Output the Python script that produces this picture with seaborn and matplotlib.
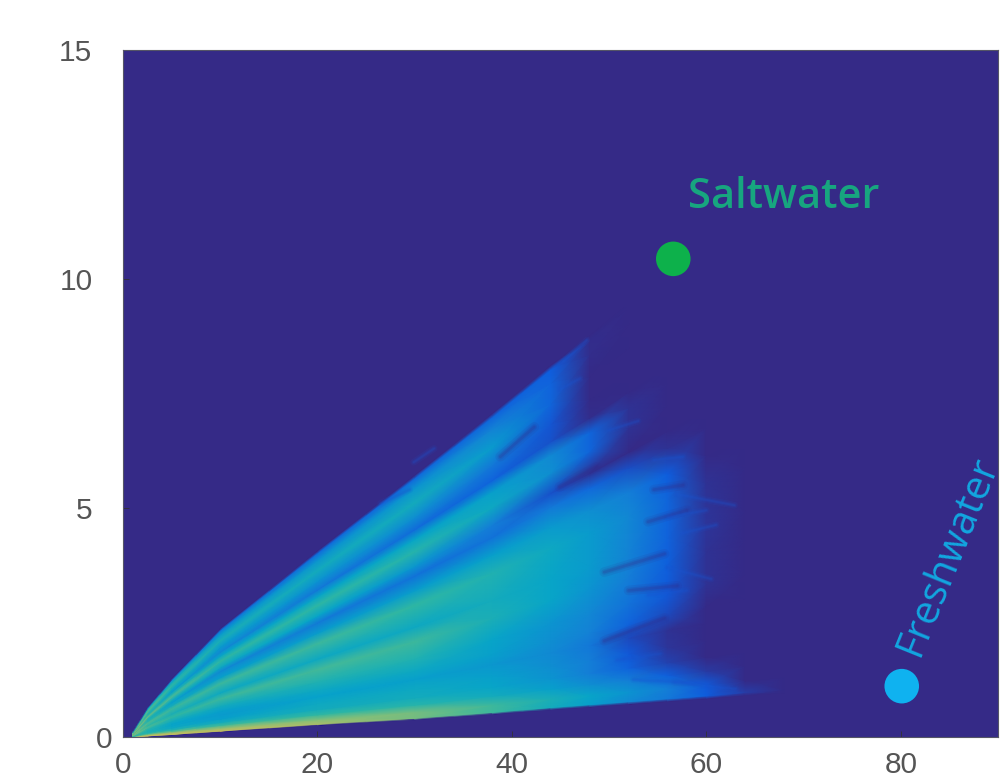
import numpy as np
import pandas as pd
import matplotlib
matplotlib.use("Agg")
import matplotlib.pyplot as plt
from matplotlib.transforms import ScaledTranslation
import seaborn as sns

# Axis ticks
x_ticks = [0, 20, 40, 60, 80]
y_ticks = [0, 5, 10, 15]

# Fan outline: at each x, its lower and upper edge
x_cols = [1, 2.5, 5, 10, 20, 30, 38, 44, 48, 52, 56, 60, 64, 68]
edge_low = [0, .02, .05, .12, .26, .38, .50, .60, .66, .72, .78, .84, .91, .97]
edge_top = [.1, .62, 1.25, 2.35, 4.05, 5.7, 7.05, 8.1, 8.75, 9.45, 10.15, 10.85, 11.5, 12.2]

# Position of each ray between the two edges
ray_pos = [0, .006, .03, .06, .09, .125, .165, .20, .25, .32, .38, .47, .53, .59,
           .63, .69, .74, .78, .83, .89, .95, .99, 1.0]

# Density along each ray (percent of the colour scale), one row per ray, one column per x
density = [
    [ 0,  0,  0,  0,  0,  0,  0,  0,  0,  0,  0,  0,  0, 0],
    [72, 72, 72, 72, 68, 60, 52, 42, 36, 28, 22, 13,  5, 0],
    [72, 72, 70, 66, 62, 60, 52, 44, 38, 32, 24, 12,  0, 0],
    [64, 62, 56, 52, 50, 48, 42, 36, 30, 24, 14,  4,  0, 0],
    [58, 52, 46, 42, 42, 42, 38, 32, 24, 15,  6,  0,  0, 0],
    [52, 46, 40, 36, 40, 40, 36, 30, 24, 12,  3,  0,  0, 0],
    [50, 46, 38, 34, 37, 36, 33, 28, 22,  8,  2,  0,  0, 0],
    [52, 46, 38, 36, 40, 40, 36, 30, 25, 15,  8,  0,  0, 0],
    [56, 48, 42, 42, 46, 46, 38, 32, 27, 20, 12,  2,  0, 0],
    [62, 54, 50, 52, 53, 52, 44, 38, 32, 24, 14,  2,  0, 0],
    [60, 50, 44, 40, 40, 40, 42, 38, 34, 26, 15,  3,  0, 0],
    [64, 54, 52, 52, 52, 50, 46, 40, 34, 27, 16,  2,  0, 0],
    [60, 48, 42, 36, 35, 35, 36, 34, 30, 24, 13,  0,  0, 0],
    [58, 45, 36, 28, 23, 20, 20, 22, 17,  9,  2,  0,  0, 0],
    [60, 48, 42, 40, 38, 33, 24, 10,  2,  0,  0,  0,  0, 0],
    [66, 58, 54, 50, 50, 48, 40, 30, 16,  2,  0,  0,  0, 0],
    [62, 52, 46, 38, 38, 38, 36, 28, 16,  2,  0,  0,  0, 0],
    [58, 46, 36, 28, 22, 18, 15, 10,  1,  0,  0,  0,  0, 0],
    [58, 50, 42, 34, 32, 30, 22, 11,  0,  0,  0,  0,  0, 0],
    [60, 55, 50, 44, 42, 42, 34, 16,  0,  0,  0,  0,  0, 0],
    [55, 50, 42, 34, 32, 32, 26, 15,  1,  0,  0,  0,  0, 0],
    [45, 38, 26, 20, 17, 17, 16, 13,  1,  0,  0,  0,  0, 0],
    [ 0,  0,  0,  0,  0,  0,  0,  0,  0,  0,  0,  0,  0, 0],
]

# Parula colour anchors
scale_colors = ["#352a87", "#0f5cdd", "#1481d6", "#06a4ca", "#2eb7a4",
                "#87bf77", "#d1bb59", "#fec832", "#f9fb0e"]

# Faint blue wisps at the fan's ends: start x, start y, end x, end y
wisp_x0 = [45.3, 44.9, 57.0, 57.5, 54.6, 50.8, 52.5, 56.7, 29.9, 26.5, 56.0, 50.0, 56.0, 54.0]
wisp_y0 = [8.20, 7.58, 5.30, 4.45, 6.05, 1.68, 1.25, 1.20, 6.00, 5.10, 3.70, 6.70, 4.80, 3.10]
wisp_x1 = [47.7, 47.0, 62.9, 61.0, 57.6, 55.3, 59.4, 63.0, 32.0, 29.5, 60.5, 53.0, 60.0, 58.0]
wisp_y1 = [8.66, 7.83, 5.06, 4.63, 6.12, 1.82, 1.18, 1.05, 6.30, 5.40, 3.45, 6.90, 4.95, 3.20]

# Dark gaps cut into the fan's ends: start x, start y, end x, end y
gap_x0 = [49.5, 44.9, 49.5, 54.6, 38.8, 52.0, 54.0]
gap_y0 = [3.60, 5.46, 2.10, 5.40, 6.12, 3.20, 4.70]
gap_x1 = [55.7, 48.7, 55.7, 57.6, 42.3, 57.0, 58.0]
gap_y1 = [4.00, 5.90, 2.60, 5.50, 6.77, 3.30, 4.95]

# Labelled points
names = ["Saltwater", "Freshwater"]
point_x = [56.6, 80.1]
point_y = [10.44, 1.11]
point_colors = ["#0db14b", "#0fb2f0"]

sns.set_theme(style="white")
plt.rcParams["font.family"] = ["Liberation Sans", "DejaVu Sans"]

fig = plt.figure(figsize=(10.06, 7.8), dpi=100)
ax = fig.add_axes([123 / 1006, 1 - 737 / 780, 875 / 1006, 687 / 780])
ax.set_facecolor(scale_colors[0])

cmap = sns.blend_palette(scale_colors, as_cmap=True)
xs = np.array(x_cols, dtype=float)
low = np.array(edge_low)
top = np.array(edge_top)
u = np.array(ray_pos)
C = np.array(density, dtype=float) / 100.0
X = np.tile(xs, (len(u), 1))
Y = low + u[:, None] * (top - low)
ax.pcolormesh(X, Y, C, shading="gouraud", cmap=cmap, vmin=0, vmax=1, zorder=1)

# Soft strokes: wide and faint under narrow and a little stronger
for lw, alpha in [(7, 0.10), (4, 0.14), (2, 0.20)]:
    for a, b, c, d in zip(gap_x0, gap_y0, gap_x1, gap_y1):
        ax.plot([a, c], [b, d], color=scale_colors[0], lw=lw, alpha=alpha, solid_capstyle="round", zorder=2)
    for a, b, c, d in zip(wisp_x0, wisp_y0, wisp_x1, wisp_y1):
        ax.plot([a, c], [b, d], color="#1a55d0", lw=lw * 0.7, alpha=alpha, solid_capstyle="round", zorder=2)

points = pd.DataFrame({"x": point_x, "y": point_y, "name": names})
sns.scatterplot(data=points, x="x", y="y", hue="name", palette=dict(zip(names, point_colors)),
                s=620, linewidth=0, legend=False, ax=ax, zorder=3)

ax.text(68, 11.8, "Saltwater", color="#17a67f", fontsize=30, family="Open Sans", weight=600,
        ha="center", va="center", zorder=4)
ax.text(84.9, 3.95, "Freshwater", color="#12a6e0", fontsize=29, family="Open Sans",
        rotation=68, rotation_mode="anchor", ha="center", va="center", zorder=4)

ax.set_xlim(0, 90)
ax.set_ylim(0, 15)
ax.set_xticks(x_ticks)
ax.set_yticks(y_ticks)
ax.set_xlabel("")
ax.set_ylabel("")
ax.tick_params(axis="both", direction="in", length=4, width=0.6, color="#333333",
               labelsize=21.5, labelcolor="#555555", bottom=True, left=True)
ax.tick_params(axis="y", pad=22)
ax.tick_params(axis="x", pad=10)
# The zero of the y axis sits further right than the other labels in the reference
lab0 = ax.get_yticklabels()[0]
lab0.set_transform(lab0.get_transform() + ScaledTranslation(14 / 72, 0, fig.dpi_scale_trans))
for s in ax.spines.values():
    s.set_linewidth(0.8)
    s.set_color("#555566")

fig.savefig("out.png", dpi=100)
